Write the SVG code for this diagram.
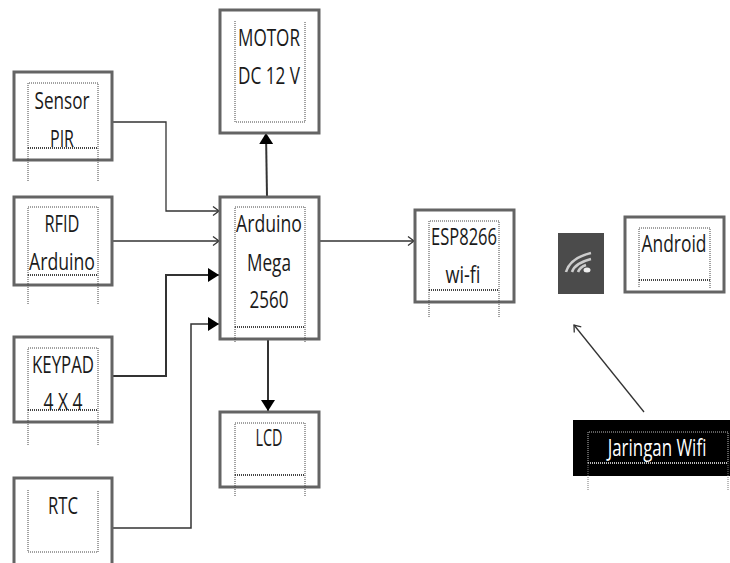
<svg xmlns="http://www.w3.org/2000/svg" width="730" height="563" viewBox="0 0 730 563">
<style>
.b{fill:#fff;stroke:#646464;stroke-width:3}
.d{fill:none;stroke:#444;stroke-width:1;stroke-dasharray:1 1}
.dd{fill:none;stroke:#444;stroke-width:2;stroke-dasharray:1 1}
.t{font-family:"Open Sans","Noto Sans",sans-serif;font-size:23.5px;fill:#1a1a1a;text-anchor:middle}
.c{fill:none;stroke:#333;stroke-width:1.3}
.h{fill:none;stroke:#333;stroke-width:2}
</style>
<defs>
<marker id="o" markerUnits="userSpaceOnUse" markerWidth="10" markerHeight="12" refX="8" refY="6" orient="auto"><path d="M2 1.5L8 6L2 10.5" fill="none" stroke="#333" stroke-width="1.3"/></marker>
<marker id="s" markerUnits="userSpaceOnUse" markerWidth="13" markerHeight="14" refX="11" refY="7" orient="auto"><path d="M0 0L11 7L0 14Z" fill="#000"/></marker>
</defs>
<g id="connectors">
<path class="c" d="M112 122H166V211H219" marker-end="url(#o)"/>
<path class="c" d="M112 241H219" marker-end="url(#o)"/>
<path class="h" d="M112 376H166V275H219" marker-end="url(#s)"/>
<path class="h" d="M112 528H191V324H219" marker-end="url(#s)" style="stroke-width:1.5"/>
<path class="h" d="M267 197L266 133" marker-end="url(#s)"/>
<path class="h" d="M268 339V411" marker-end="url(#s)"/>
<path class="c" d="M319 241H414" marker-end="url(#o)"/>
<path class="c" d="M644 412L574 325" marker-end="url(#o)"/>
</g>
<g id="sensor-pir">
<rect class="b" x="14" y="72" width="98" height="88"/>
<path class="d" d="M28 148V83H98V181M28 148V181"/><path class="dd" d="M28 148H98"/>
<text class="t" x="62" y="109" textLength="55" lengthAdjust="spacingAndGlyphs">Sensor</text>
<text class="t" x="62" y="147" textLength="24" lengthAdjust="spacingAndGlyphs">PIR</text>
</g>
<g id="rfid-arduino">
<rect class="b" x="14" y="197" width="98" height="88"/>
<path class="d" d="M28 275V207H98V305M28 275V305"/><path class="dd" d="M28 275H98"/>
<text class="t" x="62" y="232" textLength="35" lengthAdjust="spacingAndGlyphs">RFID</text>
<text class="t" x="62" y="270" textLength="66" lengthAdjust="spacingAndGlyphs">Arduino</text>
</g>
<g id="keypad">
<rect class="b" x="14" y="337" width="98" height="85"/>
<path class="d" d="M28 410V348H98V446M28 410V446"/><path class="dd" d="M28 410H98"/>
<text class="t" x="63" y="373" textLength="62" lengthAdjust="spacingAndGlyphs">KEYPAD</text>
<text class="t" x="63" y="410" textLength="39" lengthAdjust="spacingAndGlyphs">4 X 4</text>
</g>
<g id="rtc">
<rect class="b" x="14" y="478" width="98" height="90"/>
<path class="d" d="M28 490V552H98V490"/>
<text class="t" x="63" y="514" textLength="30" lengthAdjust="spacingAndGlyphs">RTC</text>
</g>
<g id="motor">
<rect class="b" x="220" y="10" width="99" height="123"/>
<path class="d" d="M235 21V122H305V21"/>
<text class="t" x="269" y="46" textLength="62" lengthAdjust="spacingAndGlyphs">MOTOR</text>
<text class="t" x="269" y="84" textLength="62" lengthAdjust="spacingAndGlyphs">DC 12 V</text>
</g>
<g id="arduino-mega">
<rect class="b" x="220" y="197" width="99" height="142"/>
<path class="d" d="M235 327V207H305V343M235 327V343"/><path class="dd" d="M235 327H305"/>
<text class="t" x="269" y="232" textLength="66" lengthAdjust="spacingAndGlyphs">Arduino</text>
<text class="t" x="269" y="271" textLength="44" lengthAdjust="spacingAndGlyphs">Mega</text>
<text class="t" x="269" y="308" textLength="39" lengthAdjust="spacingAndGlyphs">2560</text>
</g>
<g id="lcd">
<rect class="b" x="220" y="412" width="99" height="75"/>
<path class="d" d="M235 475V423H305V497M235 475V497"/><path class="dd" d="M235 475H305"/>
<text class="t" x="269" y="446" textLength="27" lengthAdjust="spacingAndGlyphs">LCD</text>
</g>
<g id="esp8266">
<rect class="b" x="415" y="210" width="99" height="92"/>
<path class="d" d="M429 290V221H499V318M429 290V318"/><path class="dd" d="M429 290H499"/>
<text class="t" x="464" y="245" textLength="66" lengthAdjust="spacingAndGlyphs">ESP8266</text>
<text class="t" x="463" y="283" textLength="35" lengthAdjust="spacingAndGlyphs">wi-fi</text>
</g>
<g id="wifi-icon">
<rect x="558" y="233" width="46" height="61" fill="#4b4b4b"/>
<g fill="none" stroke="#ccc" stroke-width="2.6"><path d="M566 272Q570 258 591 253"/><path d="M572 272Q575 263 591 259"/><path d="M578 272Q580 267 586 265"/></g>
<ellipse cx="587" cy="270" rx="3.5" ry="2.5" fill="#eee"/>
</g>
<g id="android">
<rect class="b" x="625" y="217" width="99" height="75"/>
<path class="d" d="M639 280V228H710V288M639 280V288"/><path class="dd" d="M639 280H710"/>
<text class="t" x="674" y="252" textLength="65" lengthAdjust="spacingAndGlyphs">Android</text>
</g>
<g id="jaringan-wifi">
<rect x="573" y="420" width="157" height="56" fill="#000"/>
<path class="d" d="M588 463V432H728V463" style="stroke:#bbb"/><path class="dd" d="M588 463H728" style="stroke:#bbb"/>
<path class="d" d="M588 463V491M728 463V491" style="stroke:#777"/>
<text class="t" transform="translate(657 456) scale(.72 1)" style="fill:#fff">Jaringan Wifi</text>
</g>
</svg>
